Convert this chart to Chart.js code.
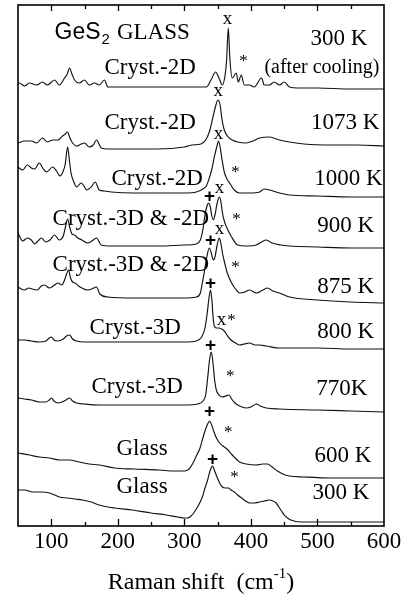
<!DOCTYPE html>
<html>
<head>
<meta charset="utf-8">
<script src="https://cdn.jsdelivr.net/npm/chart.js@4.4.0/dist/chart.umd.min.js"></script>
<style>
  html, body { margin: 0; padding: 0; background: #fff; }
  #wrap { width: 406px; height: 603px; }
</style>
</head>
<body>
<div id="wrap"><canvas id="c" width="406" height="603"></canvas></div>
<script>
// Raman spectra of GeS2 glass at several temperatures, stacked with vertical offsets.
// Each point: [Raman shift (cm-1), intensity (arb. units, offset included)].
const cooled300 = [[50,442],[52,443],[60,440],[67,443],[78,441],[87,444],[94,441],[105,446],[112,441],[120,448],[124,452],[127.5,458],[131,452],[135,446],[142,443],[150,446],[157,441],[165,443],[172,441],[180,446],[185,439],[220,439],[260,439],[300,439],[333,439],[340,446],[347,454],[352,448],[357,441],[361,450],[363.5,466],[366,498],[368.5,466],[372,448],[378,453],[381,444],[385.5,451],[390,441],[398,441],[405,439],[416,448],[420,441],[428,441],[435,444],[443,441],[450,444],[458,439],[470,438],[500,438],[550,437],[600,437]];
const hot1073 = [[50,383],[60,385],[70,385],[78,383],[87,388],[94,384],[102,386],[110,386],[117,390],[121,392],[124.5,394],[128,388],[132,383],[138,380],[145,382],[150,383],[157,379],[163,381],[168,386],[175,378],[185,377],[225,377],[260,377],[300,379],[312,381],[325,382],[332,386],[338,395],[342,406],[347,420],[350.5,426],[354,420],[356,409],[360,396],[366,389],[372,386],[380,384],[393,383],[403,385],[413,388],[428,389],[443,386],[458,384],[480,382],[520,381],[560,381],[600,380]];
const hot1000 = [[50,359],[57,356],[64,361],[70,358],[75,357],[82,363],[88,357],[93,354],[102,359],[108,355],[113,350],[118,355],[121,362],[124.5,379],[127.5,364],[130,352],[134,344],[138,339],[145,343],[150,339],[153,336],[160,339],[166,344],[172,336],[180,335],[190,334],[225,333],[262,333],[300,333],[318,334],[328,337],[333,340],[337,347],[341,356],[345,369],[349,380],[351,385],[353.5,380],[356,369],[360,354],[364,347],[368,343],[375,336],[383,333],[398,333],[413,334],[420,337],[428,336],[443,333],[458,331],[500,330],[550,329],[600,329]];
const hot900 = [[50,293],[57,285],[64,288],[70,286],[75,282],[80,285],[85,288],[92,284],[98,286],[105,291],[112,286],[118,290],[121,298],[124.5,307],[128,298],[131,292],[135,291],[140,288],[146,286],[155,283],[161,285],[168,288],[175,281],[190,280],[225,280],[262,280],[300,281],[318,282],[324,286],[328,297],[331,311],[334,320],[336.5,323],[339,319],[341,311],[343.5,306],[346,311],[349,322],[352.5,329],[355,324],[357,314],[360,305],[364,298],[371,289],[380,281],[393,280],[408,281],[416,284],[423,286],[432,283],[445,281],[458,280],[500,279],[550,278],[600,278]];
const hot875 = [[50,239],[55,237],[60,236],[66,238],[71,237],[79,236],[85,240],[90,241],[97,238],[103,240],[110,243],[116,241],[120,246],[123,252],[126,256],[129,248],[132,244],[136,243],[141,240],[146,238],[154,236],[161,237],[168,239],[173,232],[185,229],[225,228],[262,228],[300,228],[318,229],[324,233],[327,243],[331,258],[334,270],[337.5,278],[340.5,273],[343.5,266],[346,269],[349,280],[352.5,288],[355,282],[357.5,272],[361,262],[364,254],[371,243],[377,237],[383,233],[391,234],[398,236],[408,233],[418,236],[425,238],[433,235],[443,233],[458,229],[500,226],[550,224],[600,223]];
const hot800 = [[50,186],[60,186],[70,185],[82,184],[92,185],[97,188],[100.5,189],[104,186],[110,185],[118,187],[123,190],[127.5,191],[132,187],[138,185],[150,184],[172,184],[200,184],[250,184],[300,184],[318,185],[326,189],[331,198],[334,211],[337,228],[339.3,236],[341.5,225],[343,210],[345,200],[348,198],[352,198],[356,197],[360,195],[364,191],[370,186],[377,183],[383,181],[390,182],[398,183],[406,181],[413,181],[423,180],[443,178],[458,178],[500,178],[550,177],[600,177]];
const hot770 = [[50,128],[60,127],[70,126],[82,124],[92,124],[97,126],[100.5,128],[104,125],[110,123],[116,124],[122,126],[127.5,128],[132,125],[138,123],[150,122],[172,121],[200,121],[250,121],[300,121],[320,122],[328,125],[332,131],[335,148],[338,167],[340.5,174],[343,163],[345.5,146],[348,136],[352,131],[357,129],[362,130],[367,131],[371,127],[376,123],[383,120],[393,118],[400,119],[408,122],[414,120],[423,118],[443,117],[500,116],[550,115],[600,114]];
const glass600 = [[50,73],[67,71],[82,69],[97,68],[112,66],[127,66],[142,64],[157,62],[172,61],[195,58],[225,57],[262,56],[285,55],[300,55],[307,57],[313,63],[318,70],[323,77],[330,93],[335,102],[338,105],[341,101],[345,93],[349,87],[353,83],[358,80],[364,77],[372,71],[383,64],[393,62],[408,61],[418,62],[425,62],[432,59],[440,55],[448,52],[458,50],[480,49],[520,48],[560,48],[600,48]];
const glass300 = [[50,36],[60,36],[72,34],[85,34],[97,33],[105,31],[112,29],[125,28],[135,27],[147,26],[160,24],[172,21],[195,18],[222,16],[250,13],[273,11],[290,9],[300,8],[305,8],[310,10],[314,13],[318,17],[323,23],[327,29],[331,38],[335,46],[338,54],[341,59],[342.5,60],[345,56],[349,49],[353,43],[357,39],[362,38],[366,38],[370,36],[375,34],[380,31],[386,28],[392,25],[398,23],[405,23],[413,24],[420,25],[428,26],[433,25],[438,23],[442,19],[446,15],[450,11],[455,8],[460,6],[475,4],[500,4],[550,4],[600,4]];

const spectra = [cooled300, hot1073, hot1000, hot900, hot875, hot800, hot770, glass600, glass300];

// Text for each trace
const temperatures = ['300 K', '1073 K', '1000 K', '900 K', '875 K', '800 K', '770K', '600 K', '300 K'];
const phases = ['Cryst.-2D', 'Cryst.-2D', 'Cryst.-2D', 'Cryst.-3D & -2D', 'Cryst.-3D & -2D', 'Cryst.-3D', 'Cryst.-3D', 'Glass', 'Glass'];
const xTicks = [100, 200, 300, 400, 500, 600];

// Where each trace's text sits, in (cm-1, intensity) coordinates
const tempAnchor = [[575,487],[593,403],[598,347],[585,300],[585,239],[585,194],[575,137],[581,70],[578,33]];
const phaseAnchor = [[180,458],[180,403],[190.5,347],[102,307],[102,261],[157.5,198],[160.5,139],[198,77],[198,39]];
// Peak-assignment symbols: x = 2D, + = 3D, * = shoulder
const peakMarks = [
  ['x',364.8,507],['*',389,464],
  ['x',351,435],
  ['x',351.3,392],['*',376.7,353],
  ['+',337.7,329],['x',352.8,338],['*',378.2,306],
  ['+',339.3,285],['x',352.8,297],['*',376.7,258],
  ['+',339.3,242],['x',355.8,206],['*',371,205],
  ['+',339.3,180],['*',369,149],
  ['+',337.7,114],['*',366,93],
  ['+',342.3,66],['*',375.2,48]
];

const SERIF = '"Liberation Serif", "Times New Roman", serif';
const SANS = '"Liberation Sans", Arial, sans-serif';

const decorations = {
  id: 'decorations',
  afterDraw(chart) {
    const { ctx, chartArea: a, scales: { x, y } } = chart;
    ctx.save();
    ctx.fillStyle = '#000';
    ctx.strokeStyle = '#000';

    // frame
    ctx.lineWidth = 1.6;
    ctx.strokeRect(a.left, a.top, a.right - a.left, a.bottom - a.top);

    // inward tick marks on bottom and top
    ctx.lineWidth = 1.3;
    for (let v = 100; v < 600; v += 50) {
      const px = Math.round(x.getPixelForValue(v)) + 0.5;
      const major = v % 100 === 0;
      ctx.beginPath();
      ctx.moveTo(px, a.bottom);
      ctx.lineTo(px, a.bottom - (major ? 7 : 4));
      ctx.moveTo(px, a.top);
      ctx.lineTo(px, a.top + (major ? 6 : 4));
      ctx.stroke();
    }

    const put = (s, xv, yv, font, align) => {
      ctx.font = font;
      ctx.textAlign = align || 'left';
      ctx.textBaseline = 'middle';
      ctx.fillText(s, x.getPixelForValue(xv), y.getPixelForValue(yv));
    };

    temperatures.forEach((t, i) => put(t, tempAnchor[i][0], tempAnchor[i][1], '23px ' + SERIF, 'right'));
    phases.forEach((p, i) => put(p, phaseAnchor[i][0], phaseAnchor[i][1], '23px ' + SERIF, 'left'));
    put('(after cooling)', 593, 458, '20px ' + SERIF, 'right');

    peakMarks.forEach(([s, xv, yv]) => {
      const f = s === '+' ? 'bold 19px ' + SANS : (s === '*' ? '17px ' + SERIF : '19px ' + SERIF);
      put(s, xv, yv, f, 'center');
    });

    // sample title with subscript
    let tx = x.getPixelForValue(105);
    const ty = y.getPixelForValue(493);
    ctx.textAlign = 'left';
    ctx.textBaseline = 'middle';
    ctx.font = '23px ' + SANS;
    ctx.fillText('GeS', tx, ty);
    tx += ctx.measureText('GeS').width;
    ctx.font = '15px ' + SANS;
    ctx.fillText('2', tx + 1, ty + 7);
    tx += ctx.measureText('2').width + 8;
    ctx.font = '23px ' + SERIF;
    ctx.fillText('GLASS', tx, ty);

    // axis title with superscript
    const main = 'Raman shift  (cm', sup = '-1', tail = ')';
    ctx.font = '24px ' + SERIF;
    const w1 = ctx.measureText(main).width, w3 = ctx.measureText(tail).width;
    ctx.font = '15px ' + SERIF;
    const w2 = ctx.measureText(sup).width;
    let sx = (a.left + a.right) / 2 - (w1 + w2 + w3) / 2;
    const sy = chart.height - 20;
    ctx.font = '24px ' + SERIF;
    ctx.fillText(main, sx, sy);
    sx += w1;
    ctx.font = '15px ' + SERIF;
    ctx.fillText(sup, sx, sy - 9);
    sx += w2;
    ctx.font = '24px ' + SERIF;
    ctx.fillText(tail, sx, sy);
    ctx.restore();
  }
};

new Chart(document.getElementById('c'), {
  type: 'line',
  data: {
    datasets: spectra.map(s => ({
      data: s.map(([xv, yv]) => ({ x: xv, y: yv })),
      borderColor: '#111',
      borderWidth: 1.15,
      pointRadius: 0,
      fill: false,
      cubicInterpolationMode: 'monotone'
    }))
  },
  options: {
    responsive: false,
    animation: false,
    devicePixelRatio: 1,
    layout: { padding: { left: 18, right: 22, top: 5, bottom: 47 } },
    plugins: { legend: { display: false }, tooltip: { enabled: false } },
    scales: {
      x: {
        type: 'linear', min: 50, max: 600,
        grid: { display: false, drawTicks: false },
        border: { display: false },
        afterBuildTicks: sc => { sc.ticks = [50].concat(xTicks).map(v => ({ value: v })); },
        afterFit: sc => { sc.height = 30; sc.paddingLeft = 0; sc.paddingRight = 0; },
        ticks: {
          autoSkip: false, maxRotation: 0, padding: 2, color: '#000',
          font: { family: SERIF, size: 23 },
          callback: v => (xTicks.includes(v) ? String(v) : '')
        }
      },
      y: { display: false, min: 0, max: 521 }
    }
  },
  plugins: [decorations]
});
</script>
</body>
</html>
